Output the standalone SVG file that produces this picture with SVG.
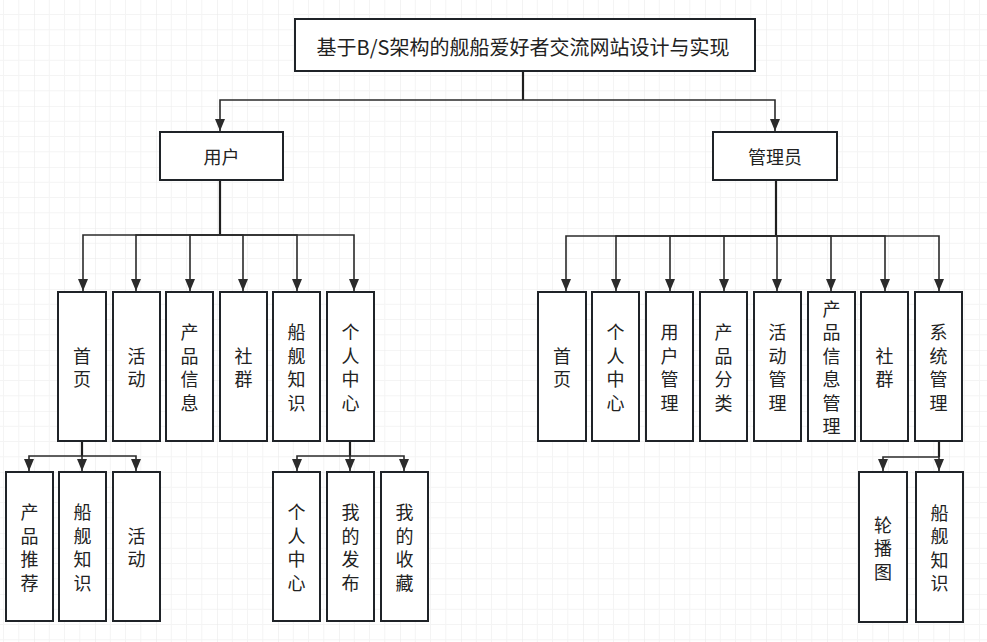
<svg xmlns="http://www.w3.org/2000/svg" width="987" height="642" viewBox="0 0 987 642">
<style>
.box{fill:#ffffff;stroke:#1f2328;stroke-width:2}
.t{font-family:"Noto Sans CJK SC","Noto Sans",sans-serif;font-size:18px;fill:#222;text-anchor:middle;dominant-baseline:central}
.title{font-size:20px}
.c{fill:none;stroke:#2b2b2b;stroke-width:1.6;marker-end:url(#ah)}
.trunk{fill:none;stroke:#1f1f1f;stroke-width:2.2}
</style>
<defs>
<pattern id="grid" patternUnits="userSpaceOnUse" x="34" y="45" width="61" height="61">
<path d="M15.25,0V61M30.5,0V61M45.75,0V61M0,15.25H61M0,30.5H61M0,45.75H61" stroke="#f4f4f4" stroke-width="1" fill="none"/>
<path d="M0,0V61M0,0H61" stroke="#ebebeb" stroke-width="1.2" fill="none"/>
</pattern>
<marker id="ah" markerUnits="userSpaceOnUse" markerWidth="12" markerHeight="10" refX="12" refY="5" orient="auto">
<path d="M0,0L12,5L0,10z" fill="#2b2b2b"/>
</marker>
</defs>
<rect width="987" height="642" fill="#ffffff"/>
<rect width="987" height="642" fill="url(#grid)"/>

<g id="connectors">
<path class="trunk" d="M523,71V100"/>
<path class="c" d="M523,100H220V131"/>
<path class="c" d="M523,100H775V131"/>
<path class="trunk" d="M220,180V235"/>
<path class="c" d="M220,235H83V291"/>
<path class="c" d="M220,235H136V291"/>
<path class="c" d="M220,235H190V291"/>
<path class="c" d="M220,235H243V291"/>
<path class="c" d="M220,235H297V291"/>
<path class="c" d="M220,235H354V291"/>
<path class="trunk" d="M776,180V236"/>
<path class="c" d="M776,236H566V291"/>
<path class="c" d="M776,236H616V291"/>
<path class="c" d="M776,236H670V291"/>
<path class="c" d="M776,236H724V291"/>
<path class="c" d="M776,236H777V291"/>
<path class="c" d="M776,236H831V291"/>
<path class="c" d="M776,236H885V291"/>
<path class="c" d="M776,236H939V291"/>
<path class="trunk" d="M82,441V456"/>
<path class="c" d="M82,456H29V471"/>
<path class="c" d="M82,456V471"/>
<path class="c" d="M82,456H136V471"/>
<path class="trunk" d="M350,441V456"/>
<path class="c" d="M350,456H297V471"/>
<path class="c" d="M350,456V471"/>
<path class="c" d="M350,456H404V471"/>
<path class="trunk" d="M939,441V457"/>
<path class="c" d="M939,457H883V471"/>
<path class="c" d="M939,457V471"/>
</g>

<g id="n-title"><rect class="box" x="295" y="19" width="460" height="52"/><text class="t title" x="523" y="46">基于B/S架构的舰船爱好者交流网站设计与实现</text></g>
<g id="n-user"><rect class="box" x="160" y="132" width="123" height="48"/><text class="t" x="221.5" y="156">用户</text></g>
<g id="n-admin"><rect class="box" x="713" y="132" width="124" height="48"/><text class="t" x="775" y="156">管理员</text></g>

<g id="n-u-home"><rect class="box" x="58" y="292" width="48" height="149"/><text class="t"><tspan x="82" y="354.75">首</tspan><tspan x="82" y="378.25">页</tspan></text></g>
<g id="n-u-act"><rect class="box" x="113" y="292" width="47" height="149"/><text class="t"><tspan x="136.5" y="354.75">活</tspan><tspan x="136.5" y="378.25">动</tspan></text></g>
<g id="n-u-prod"><rect class="box" x="166" y="292" width="47" height="149"/><text class="t"><tspan x="189.5" y="331.25">产</tspan><tspan x="189.5" y="354.75">品</tspan><tspan x="189.5" y="378.25">信</tspan><tspan x="189.5" y="401.75">息</tspan></text></g>
<g id="n-u-comm"><rect class="box" x="220" y="292" width="47" height="149"/><text class="t"><tspan x="243.5" y="354.75">社</tspan><tspan x="243.5" y="378.25">群</tspan></text></g>
<g id="n-u-ship"><rect class="box" x="273" y="292" width="47" height="149"/><text class="t"><tspan x="296.5" y="331.25">船</tspan><tspan x="296.5" y="354.75">舰</tspan><tspan x="296.5" y="378.25">知</tspan><tspan x="296.5" y="401.75">识</tspan></text></g>
<g id="n-u-me"><rect class="box" x="327" y="292" width="47" height="149"/><text class="t"><tspan x="350.5" y="331.25">个</tspan><tspan x="350.5" y="354.75">人</tspan><tspan x="350.5" y="378.25">中</tspan><tspan x="350.5" y="401.75">心</tspan></text></g>

<g id="n-u-rec"><rect class="box" x="6" y="472" width="47" height="149"/><text class="t"><tspan x="29.5" y="511.25">产</tspan><tspan x="29.5" y="534.75">品</tspan><tspan x="29.5" y="558.25">推</tspan><tspan x="29.5" y="581.75">荐</tspan></text></g>
<g id="n-u-ship2"><rect class="box" x="59" y="472" width="47" height="149"/><text class="t"><tspan x="82.5" y="511.25">船</tspan><tspan x="82.5" y="534.75">舰</tspan><tspan x="82.5" y="558.25">知</tspan><tspan x="82.5" y="581.75">识</tspan></text></g>
<g id="n-u-act2"><rect class="box" x="113" y="472" width="47" height="149"/><text class="t"><tspan x="136.5" y="534.75">活</tspan><tspan x="136.5" y="558.25">动</tspan></text></g>

<g id="n-u-me2"><rect class="box" x="273" y="472" width="47" height="149"/><text class="t"><tspan x="296.5" y="511.25">个</tspan><tspan x="296.5" y="534.75">人</tspan><tspan x="296.5" y="558.25">中</tspan><tspan x="296.5" y="581.75">心</tspan></text></g>
<g id="n-u-pub"><rect class="box" x="327" y="472" width="47" height="149"/><text class="t"><tspan x="350.5" y="511.25">我</tspan><tspan x="350.5" y="534.75">的</tspan><tspan x="350.5" y="558.25">发</tspan><tspan x="350.5" y="581.75">布</tspan></text></g>
<g id="n-u-fav"><rect class="box" x="381" y="472" width="47" height="149"/><text class="t"><tspan x="404.5" y="511.25">我</tspan><tspan x="404.5" y="534.75">的</tspan><tspan x="404.5" y="558.25">收</tspan><tspan x="404.5" y="581.75">藏</tspan></text></g>

<g id="n-a-home"><rect class="box" x="538" y="292" width="48" height="149"/><text class="t"><tspan x="562" y="354.75">首</tspan><tspan x="562" y="378.25">页</tspan></text></g>
<g id="n-a-me"><rect class="box" x="592" y="292" width="47" height="149"/><text class="t"><tspan x="615.5" y="331.25">个</tspan><tspan x="615.5" y="354.75">人</tspan><tspan x="615.5" y="378.25">中</tspan><tspan x="615.5" y="401.75">心</tspan></text></g>
<g id="n-a-user"><rect class="box" x="646" y="292" width="47" height="149"/><text class="t"><tspan x="669.5" y="331.25">用</tspan><tspan x="669.5" y="354.75">户</tspan><tspan x="669.5" y="378.25">管</tspan><tspan x="669.5" y="401.75">理</tspan></text></g>
<g id="n-a-cat"><rect class="box" x="700" y="292" width="47" height="149"/><text class="t"><tspan x="723.5" y="331.25">产</tspan><tspan x="723.5" y="354.75">品</tspan><tspan x="723.5" y="378.25">分</tspan><tspan x="723.5" y="401.75">类</tspan></text></g>
<g id="n-a-act"><rect class="box" x="754" y="292" width="47" height="149"/><text class="t"><tspan x="777.5" y="331.25">活</tspan><tspan x="777.5" y="354.75">动</tspan><tspan x="777.5" y="378.25">管</tspan><tspan x="777.5" y="401.75">理</tspan></text></g>
<g id="n-a-prod"><rect class="box" x="808" y="292" width="47" height="149"/><text class="t"><tspan x="831.5" y="307.75">产</tspan><tspan x="831.5" y="331.25">品</tspan><tspan x="831.5" y="354.75">信</tspan><tspan x="831.5" y="378.25">息</tspan><tspan x="831.5" y="401.75">管</tspan><tspan x="831.5" y="425.25">理</tspan></text></g>
<g id="n-a-comm"><rect class="box" x="861" y="292" width="47" height="149"/><text class="t"><tspan x="884.5" y="354.75">社</tspan><tspan x="884.5" y="378.25">群</tspan></text></g>
<g id="n-a-sys"><rect class="box" x="915" y="292" width="47" height="149"/><text class="t"><tspan x="938.5" y="331.25">系</tspan><tspan x="938.5" y="354.75">统</tspan><tspan x="938.5" y="378.25">管</tspan><tspan x="938.5" y="401.75">理</tspan></text></g>

<g id="n-a-banner"><rect class="box" x="859" y="472" width="48" height="150"/><text class="t"><tspan x="883" y="523.5">轮</tspan><tspan x="883" y="547">播</tspan><tspan x="883" y="570.5">图</tspan></text></g>
<g id="n-a-ship"><rect class="box" x="916" y="472" width="47" height="150"/><text class="t"><tspan x="939.5" y="511.75">船</tspan><tspan x="939.5" y="535.25">舰</tspan><tspan x="939.5" y="558.75">知</tspan><tspan x="939.5" y="582.25">识</tspan></text></g>
</svg>
